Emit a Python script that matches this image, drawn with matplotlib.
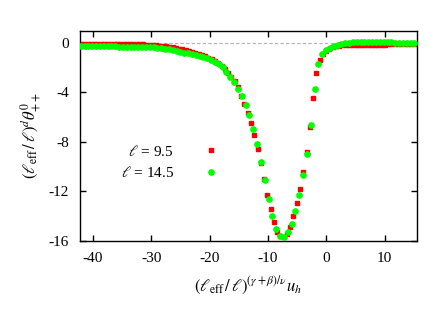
"""Scaling collapse of theta^0_{++} for two sizes (l = 9.5, 14.5)."""

import matplotlib

matplotlib.use("Agg")
import matplotlib.pyplot as plt

plt.rcParams["font.family"] = ["Liberation Serif", "DejaVu Serif"]
plt.rcParams["mathtext.fontset"] = "stix"
plt.rcParams["axes.unicode_minus"] = False

# l = 9.5 (red squares)
X_95 = [
    -42.02, -41.46, -40.90, -40.34, -39.78, -39.22, -38.66, -38.10, -37.54, -36.98,
    -36.42, -35.86, -35.30, -34.74, -34.18, -33.62, -33.06, -32.50, -31.94, -31.38,
    -30.82, -30.26, -29.70, -29.14, -28.58, -28.02, -27.46, -26.90, -26.34, -25.78,
    -25.22, -24.66, -24.10, -23.54, -22.98, -22.42, -21.86, -21.30, -20.74, -20.18,
    -19.62, -19.06, -18.50, -17.94, -17.38, -16.82, -16.26, -15.70, -15.14, -14.58,
    -14.02, -13.46, -12.90, -12.34, -11.78, -11.22, -10.66, -10.10, -9.54, -8.98,
    -8.42, -7.86, -7.30, -6.74, -6.18, -5.62, -5.06, -4.50, -3.94, -3.38,
    -2.82, -2.26, -1.70, -1.14, -0.58, -0.02, 0.54, 1.10, 1.66, 2.22,
    2.78, 3.34, 3.90, 4.46, 5.02, 5.58, 6.14, 6.70, 7.26, 7.82,
    8.38, 8.94, 9.50, 10.06, 10.62, 11.18, 11.74, 12.30, 12.86, 13.42,
    13.98, 14.54, 15.10,
]
Y_95 = [
    -0.08, -0.08, -0.08, -0.08, -0.08, -0.08, -0.08, -0.08, -0.08, -0.09,
    -0.09, -0.09, -0.09, -0.10, -0.10, -0.10, -0.11, -0.12, -0.13, -0.14,
    -0.15, -0.17, -0.19, -0.21, -0.23, -0.26, -0.29, -0.33, -0.37, -0.42,
    -0.48, -0.55, -0.62, -0.69, -0.76, -0.84, -0.92, -1.01, -1.11, -1.22,
    -1.35, -1.50, -1.67, -1.88, -2.12, -2.45, -2.75, -3.10, -3.55, -4.30,
    -4.95, -5.65, -6.50, -7.45, -8.55, -9.70, -11.00, -12.30, -13.45, -14.50,
    -15.25, -15.60, -15.70, -15.45, -14.85, -14.00, -12.95, -11.80, -10.40, -8.80,
    -6.80, -4.50, -2.45, -1.40, -0.94, -0.68, -0.50, -0.38, -0.30, -0.25,
    -0.22, -0.20, -0.19, -0.19, -0.19, -0.19, -0.19, -0.18, -0.18, -0.17,
    -0.17, -0.16, -0.16, -0.15, -0.14, -0.14, -0.13, -0.12, -0.11, -0.10,
    -0.09, -0.08, -0.07,
]

# l = 14.5 (green circles)
X_145 = [
    -42.07, -41.41, -40.75, -40.09, -39.44, -38.78, -38.12, -37.47, -36.81, -36.15,
    -35.50, -34.84, -34.18, -33.52, -32.87, -32.21, -31.55, -30.90, -30.24, -29.58,
    -28.93, -28.27, -27.61, -26.95, -26.30, -25.64, -24.98, -24.33, -23.67, -23.01,
    -22.36, -21.70, -21.04, -20.38, -19.73, -19.07, -18.41, -17.76, -17.10, -16.44,
    -15.79, -15.13, -14.47, -13.81, -13.16, -12.50, -11.84, -11.19, -10.53, -9.87,
    -9.22, -8.56, -7.90, -7.24, -6.59, -5.93, -5.27, -4.62, -3.96, -3.30,
    -2.65, -1.99, -1.33, -0.67, -0.02, 0.64, 1.30, 1.95, 2.61, 3.27,
    3.93, 4.58, 5.24, 5.90, 6.55, 7.21, 7.87, 8.52, 9.18, 9.84,
    10.50, 11.15, 11.81, 12.47, 13.12, 13.78, 14.44, 15.09,
]
Y_145 = [
    -0.30, -0.30, -0.30, -0.30, -0.30, -0.30, -0.30, -0.30, -0.30, -0.30,
    -0.31, -0.31, -0.31, -0.31, -0.32, -0.33, -0.34, -0.35, -0.37, -0.39,
    -0.42, -0.46, -0.50, -0.55, -0.60, -0.66, -0.73, -0.80, -0.87, -0.94,
    -1.00, -1.06, -1.13, -1.25, -1.40, -1.55, -1.75, -2.00, -2.40, -2.75,
    -3.20, -3.70, -4.30, -5.00, -5.85, -6.95, -8.20, -9.60, -11.10, -12.60,
    -13.95, -15.00, -15.60, -15.70, -15.30, -14.60, -13.60, -12.30, -10.70, -9.00,
    -6.65, -3.70, -1.75, -0.94, -0.59, -0.40, -0.27, -0.17, -0.10, -0.04,
    0.00, 0.04, 0.06, 0.08, 0.08, 0.08, 0.07, 0.06, 0.05, 0.04,
    0.03, 0.02, 0.01, 0.00, 0.00, -0.01, -0.02, -0.03,
]

X_TICKS = [-40, -30, -20, -10, 0, 10]
Y_TICKS = [0, -4, -8, -12, -16]
LABELS = [r"$\ell$ = 9.5", r"$\ell$ = 14.5"]


def main() -> None:
    fig = plt.figure(figsize=(4.36, 3.12), dpi=100)
    ax = fig.add_axes([0.1835, 0.2276, 0.7722, 0.673])

    ax.axhline(0, color="#b0b0b0", lw=0.8, ls=(0, (3, 2)), zorder=1)
    ax.plot(X_95, Y_95, ls="", marker="s", ms=3.4, color="#ff0000",
            mec="#ff0000", label=LABELS[0], zorder=2)
    ax.plot(X_145, Y_145, ls="", marker="o", ms=3.8, color="#00ff00",
            mec="#00ff00", label=LABELS[1], zorder=3)

    ax.set_xlim(-42.2, 15.5)
    ax.set_ylim(-16, 0.94)
    ax.set_xticks(X_TICKS)
    ax.set_yticks(Y_TICKS)
    ax.tick_params(direction="in", length=4.5, width=1, labelsize=11, pad=8,
                   top=True, right=True)
    for sp in ax.spines.values():
        sp.set_linewidth(1.0)

    ax.set_xlabel(r"$(\ell_{\rm eff}\,/\,\ell)^{(\gamma+\beta)/\nu}u_h$",
                  fontsize=12, labelpad=7)
    ax.set_ylabel(r"$(\ell_{\rm eff}\,/\,\ell)^{d}\theta^{0}_{++}$",
                  fontsize=12, labelpad=4)

    ax.legend(loc="upper right", bbox_to_anchor=(0.518, 0.54),
              bbox_transform=fig.transFigure, frameon=False, markerfirst=False,
              numpoints=1, fontsize=11, handlelength=2.0, handletextpad=1.4,
              borderpad=0, borderaxespad=0, labelspacing=0.45)

    fig.savefig("out.png", dpi=100)
    plt.close(fig)


if __name__ == "__main__":
    main()
